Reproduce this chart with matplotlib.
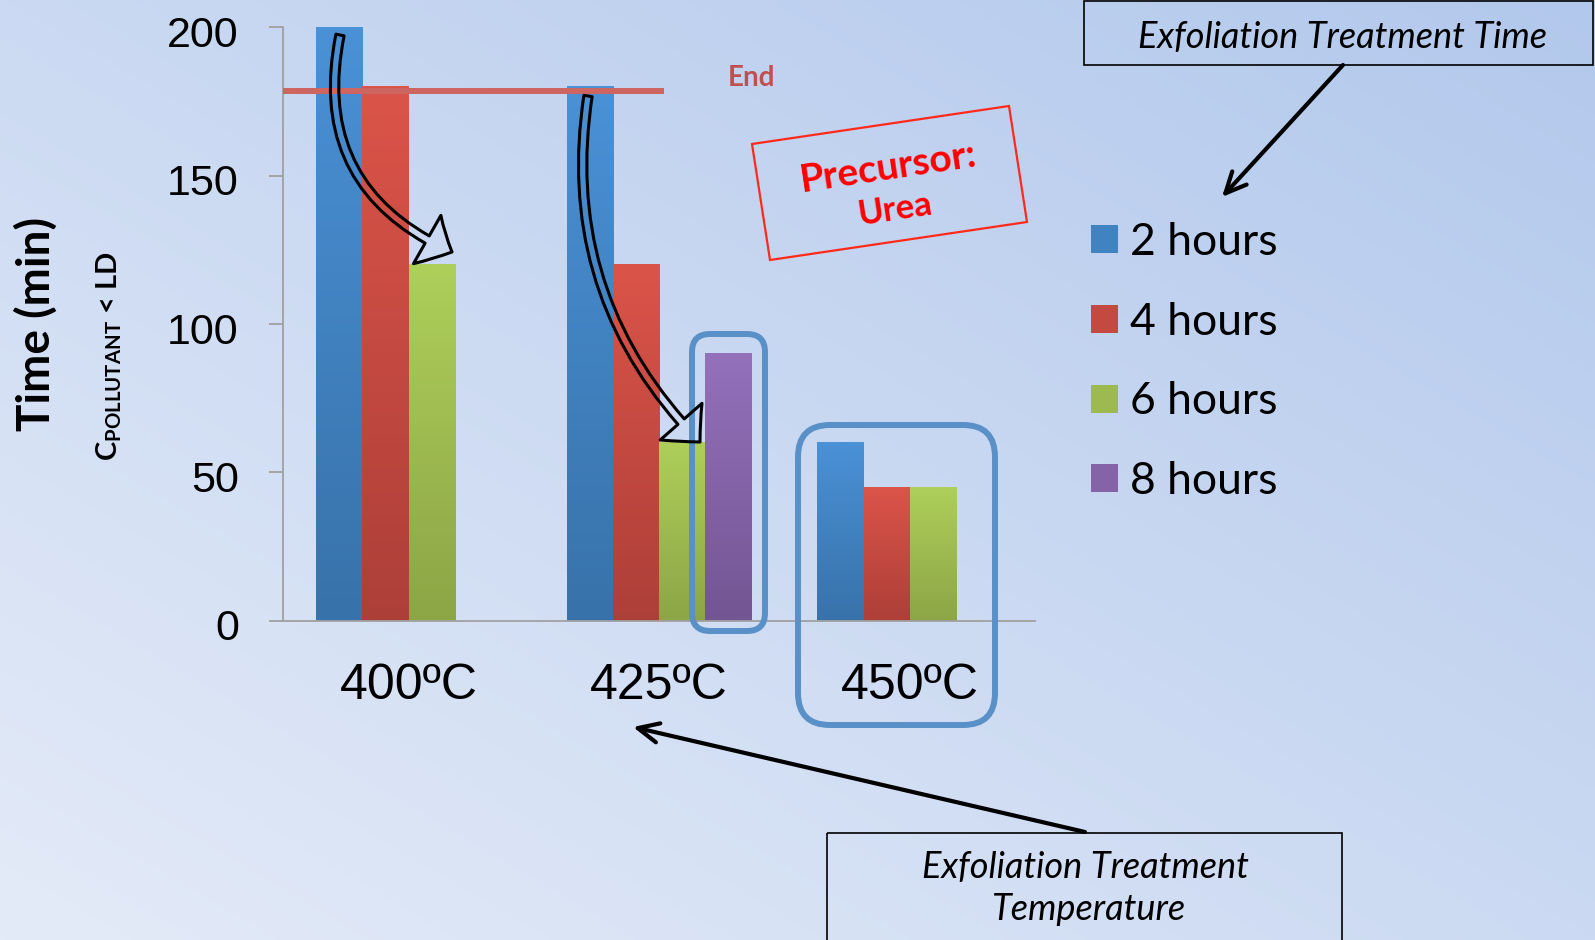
import numpy as np
import matplotlib
matplotlib.use('Agg')
import matplotlib.pyplot as plt
from matplotlib.colors import LinearSegmentedColormap, to_rgb
from matplotlib.patches import FancyBboxPatch, FancyArrowPatch, Polygon, Rectangle
from matplotlib.transforms import Affine2D, ScaledTranslation

# exfoliation temperature groups and treatment times
temps = ['400ºC', '425ºC', '450ºC']
hours = ['2 hours', '4 hours', '6 hours', '8 hours']

# time (min) until C_pollutant < LD
time_2h = [200, 180, 60]
time_4h = [180, 120, 45]
time_6h = [120, 60, 45]
time_8h = [0, 90, 0]
end_time = 178.5
yticks = [0, 50, 100, 150, 200]

# shading of the bars, top colour -> bottom colour
top_colors = ['#4a91d6', '#db5449', '#aecf5a', '#9471bb']
bottom_colors = ['#3872aa', '#ad3f39', '#8ca546', '#735593']

plt.rcParams['font.family'] = 'Liberation Sans'
plt.rcParams['mathtext.fontset'] = 'custom'
plt.rcParams['mathtext.rm'] = 'Lato:bold'
plt.rcParams['mathtext.bf'] = 'Lato:bold'

W, H = 1595, 940
fig = plt.figure(figsize=(W / 100, H / 100), dpi=100)

# pixel positions counted from the top-left corner of the figure
pix = Affine2D().scale(1 / W, -1 / H).translate(0, 1) + fig.transFigure

# diagonal background wash
bg = fig.add_axes([0, 0, 1, 1], zorder=-10)
gx, gy = np.meshgrid(np.linspace(0, 1, 256), np.linspace(0, 1, 256))
t = (gx + (1 - gy)) / 2
light = np.array([228, 235, 248]) / 255
dark = np.array([178, 200, 236]) / 255
bg.imshow(light + (dark - light) * t[..., None], aspect='auto', extent=[0, 1, 0, 1])
bg.axis('off')

ax = fig.add_axes([0.1776, 0.3395, 0.4713, 0.6315])
ax.set_facecolor('none')

series = [time_2h, time_4h, time_6h, time_8h]
x = np.arange(len(temps))
width = 0.184
grad = np.linspace(0, 1, 128)[:, None]
for i, vals in enumerate(series):
    mid = (np.array(to_rgb(top_colors[i])) + np.array(to_rgb(bottom_colors[i]))) / 2
    bars = ax.bar(x + (i - 1.5) * width, vals, width, color=mid, linewidth=0,
                  label=hours[i], zorder=2)
    cmap = LinearSegmentedColormap.from_list('shade%d' % i, [top_colors[i], bottom_colors[i]])
    for b in bars:
        if b.get_height() <= 0:
            continue
        x0 = b.get_x()
        ax.imshow(grad, cmap=cmap, aspect='auto', interpolation='bilinear', zorder=2.1,
                  extent=[x0, x0 + b.get_width(), 0, b.get_height()])

# end of the experiment
ax.axhline(end_time, xmin=0, xmax=0.503, color='#cd6560', lw=4.3, zorder=3)

ax.set_xlim(-0.5, 2.5)
ax.set_ylim(0, 200)
for s in ['top', 'right']:
    ax.spines[s].set_visible(False)
for s in ['left', 'bottom']:
    ax.spines[s].set_color('#a0a0a0')
    ax.spines[s].set_linewidth(1.3)
ax.set_yticks(yticks)
ax.set_xticks(x, temps)
ax.tick_params(axis='y', length=10, width=1.3, color='#a0a0a0', pad=22, labelsize=31)
ax.tick_params(axis='x', length=0, pad=30, labelsize=36)
shift = ScaledTranslation(0, -4 / 100, fig.dpi_scale_trans)
for lab in ax.get_yticklabels():
    lab.set_transform(lab.get_transform() + shift)

ax.legend(loc='upper left', bbox_to_anchor=(1091 / W, 1 - 222 / H), bbox_transform=fig.transFigure,
          frameon=False, prop={'family': 'Lato', 'size': 32}, handlelength=0.6, handleheight=0.6,
          handletextpad=0.28, labelspacing=0.87, borderpad=0, borderaxespad=0)

# axis titles
fig.text(36, 324, 'Time (min)', transform=pix, rotation=90, ha='center', va='center',
         family='Lato', fontweight='bold', fontsize=33)
fig.text(109, 356, r'$\mathbf{C_{POLLUTANT}}$ < LD', transform=pix, rotation=90,
         ha='center', va='center', family='Lato', fontweight='bold', fontsize=21)

fig.text(751, 78, 'End', transform=pix, ha='center', va='center', color='#c0504d',
         family='Lato', fontweight='bold', fontsize=20)

# precursor tag
fig.add_artist(Polygon([(752, 144), (1009, 106), (1027, 222), (770, 260)], closed=True,
                       transform=pix, fill=False, ec='#ff2a1a', lw=1.6))
fig.text(888, 167, 'Precursor:', transform=pix, rotation=8.5, ha='center', va='center',
         color='red', family='Lato', fontweight='bold', fontsize=28)
fig.text(895, 210, 'Urea', transform=pix, rotation=8.5, ha='center', va='center',
         color='red', family='Lato', fontweight='bold', fontsize=25)

# highlight frames
frame_kw = dict(transform=pix, fc='none', ec='#5a90c8', lw=4.3)
fig.add_artist(FancyBboxPatch((692, 334), 73, 297, boxstyle='round,pad=0,rounding_size=18', **frame_kw))
fig.add_artist(FancyBboxPatch((798, 425), 197, 300, boxstyle='round,pad=0,rounding_size=32', **frame_kw))

# hollow curved arrows between the series
curve_kw = dict(transform=pix, arrowstyle='simple,head_length=20,head_width=40,tail_width=6',
                mutation_scale=1, fc='none', ec='black', lw=2.2, shrinkA=0, shrinkB=0)
fig.add_artist(FancyArrowPatch((340, 35), (452, 252), connectionstyle='arc3,rad=0.4', **curve_kw))
fig.add_artist(FancyArrowPatch((588, 96), (700, 442), connectionstyle='arc3,rad=0.25', **curve_kw))

# treatment time / temperature call-outs
fig.add_artist(Rectangle((1084, 1), 509, 64, transform=pix, fill=False, ec='black', lw=1.2))
fig.text(1342, 37, 'Exfoliation Treatment Time', transform=pix, ha='center', va='center',
         family='Lato', style='italic', fontsize=26)
fig.add_artist(Rectangle((827, 833), 515, 120, transform=pix, fill=False, ec='black', lw=1.2))
fig.text(1085, 868, 'Exfoliation Treatment', transform=pix, ha='center', va='center',
         family='Lato', style='italic', fontsize=26)
fig.text(1088, 910, 'Temperature', transform=pix, ha='center', va='center',
         family='Lato', style='italic', fontsize=26)

arrow_kw = dict(transform=pix, arrowstyle='->,head_length=15,head_width=7', mutation_scale=1,
                color='black', lw=3, shrinkA=0, shrinkB=0)
fig.add_artist(FancyArrowPatch((1343, 65), (1222, 197), **arrow_kw))
fig.add_artist(FancyArrowPatch((1085, 832), (633, 727), **arrow_kw))

fig.savefig('out.png', dpi=100)
